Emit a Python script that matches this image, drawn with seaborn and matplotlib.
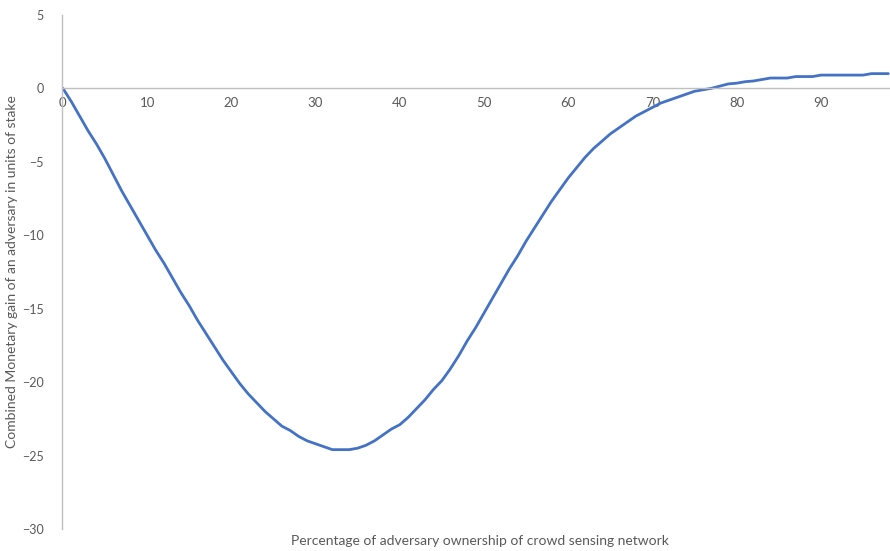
import numpy as np
import matplotlib.pyplot as plt
import pandas as pd
import seaborn as sns

# adversary ownership (%) and combined monetary gain (units of stake)
ownership = list(range(0, 99))
gain = [
    0.0, -0.9, -1.9, -2.9, -3.8, -4.8, -5.9, -7.0, -8.0, -9.0,
    -10.0, -11.0, -11.9, -12.9, -13.9, -14.8, -15.8, -16.7, -17.6, -18.5,
    -19.3, -20.1, -20.8, -21.4, -22.0, -22.5, -23.0, -23.3, -23.7, -24.0,
    -24.2, -24.4, -24.6, -24.6, -24.6, -24.5, -24.3, -24.0, -23.6, -23.2,
    -22.9, -22.4, -21.8, -21.2, -20.5, -19.9, -19.1, -18.2, -17.2, -16.3,
    -15.3, -14.3, -13.3, -12.3, -11.4, -10.4, -9.5, -8.6, -7.7, -6.9,
    -6.1, -5.4, -4.7, -4.1, -3.6, -3.1, -2.7, -2.3, -1.9, -1.6,
    -1.3, -1.0, -0.8, -0.6, -0.4, -0.2, -0.1, 0.0, 0.15, 0.3,
    0.35, 0.45, 0.5, 0.6, 0.7, 0.7, 0.7, 0.8, 0.8, 0.8,
    0.9, 0.9, 0.9, 0.9, 0.9, 0.9, 1.0, 1.0, 1.0,
]
x_ticks = [0, 10, 20, 30, 40, 50, 60, 70, 80, 90]
y_ticks = [5, 0, -5, -10, -15, -20, -25, -30]

df = pd.DataFrame({'ownership': ownership, 'gain': gain})

sns.set_style("white")
plt.rcParams['font.family'] = ['Lato', 'DejaVu Sans']

fig = plt.figure(figsize=(8.9, 5.51), dpi=100)
ax = fig.add_axes([0.0697, 0.040, 0.9303, 0.933])

sns.lineplot(data=df, x='ownership', y='gain', color='#4472C4', linewidth=2.0, ax=ax)

grey = '#595959'
axis_grey = '#BFBFBF'

ax.set_xlim(-0.1, 98.2)
ax.set_ylim(-30, 5)

for side in ['top', 'right']:
    ax.spines[side].set_visible(False)
ax.spines['bottom'].set_position(('data', 0))
ax.spines['bottom'].set_color(axis_grey)
ax.spines['left'].set_color(axis_grey)
ax.spines['bottom'].set_linewidth(1.0)
ax.spines['left'].set_linewidth(1.0)

ax.set_xticks(x_ticks)
ax.set_xticks(ownership, minor=True)
ax.set_yticks(y_ticks)
ax.tick_params(axis='x', which='both', direction='in', length=4, width=0.8,
               color=axis_grey, labelcolor=grey, labelsize=9.5, pad=6)
ax.tick_params(axis='y', length=0, labelcolor=grey, labelsize=9, pad=13)

ax.set_ylabel('Combined Monetary gain of an adversary in units of stake',
              fontsize=10, color=grey)
ax.yaxis.set_label_coords(-0.053, 0.5)
ax.set_xlabel('Percentage of adversary ownership of crowd sensing network',
              fontsize=10, color=grey)
ax.xaxis.set_label_coords(0.505, -0.012)
ax.grid(False)

plt.savefig('out.png', dpi=100)
